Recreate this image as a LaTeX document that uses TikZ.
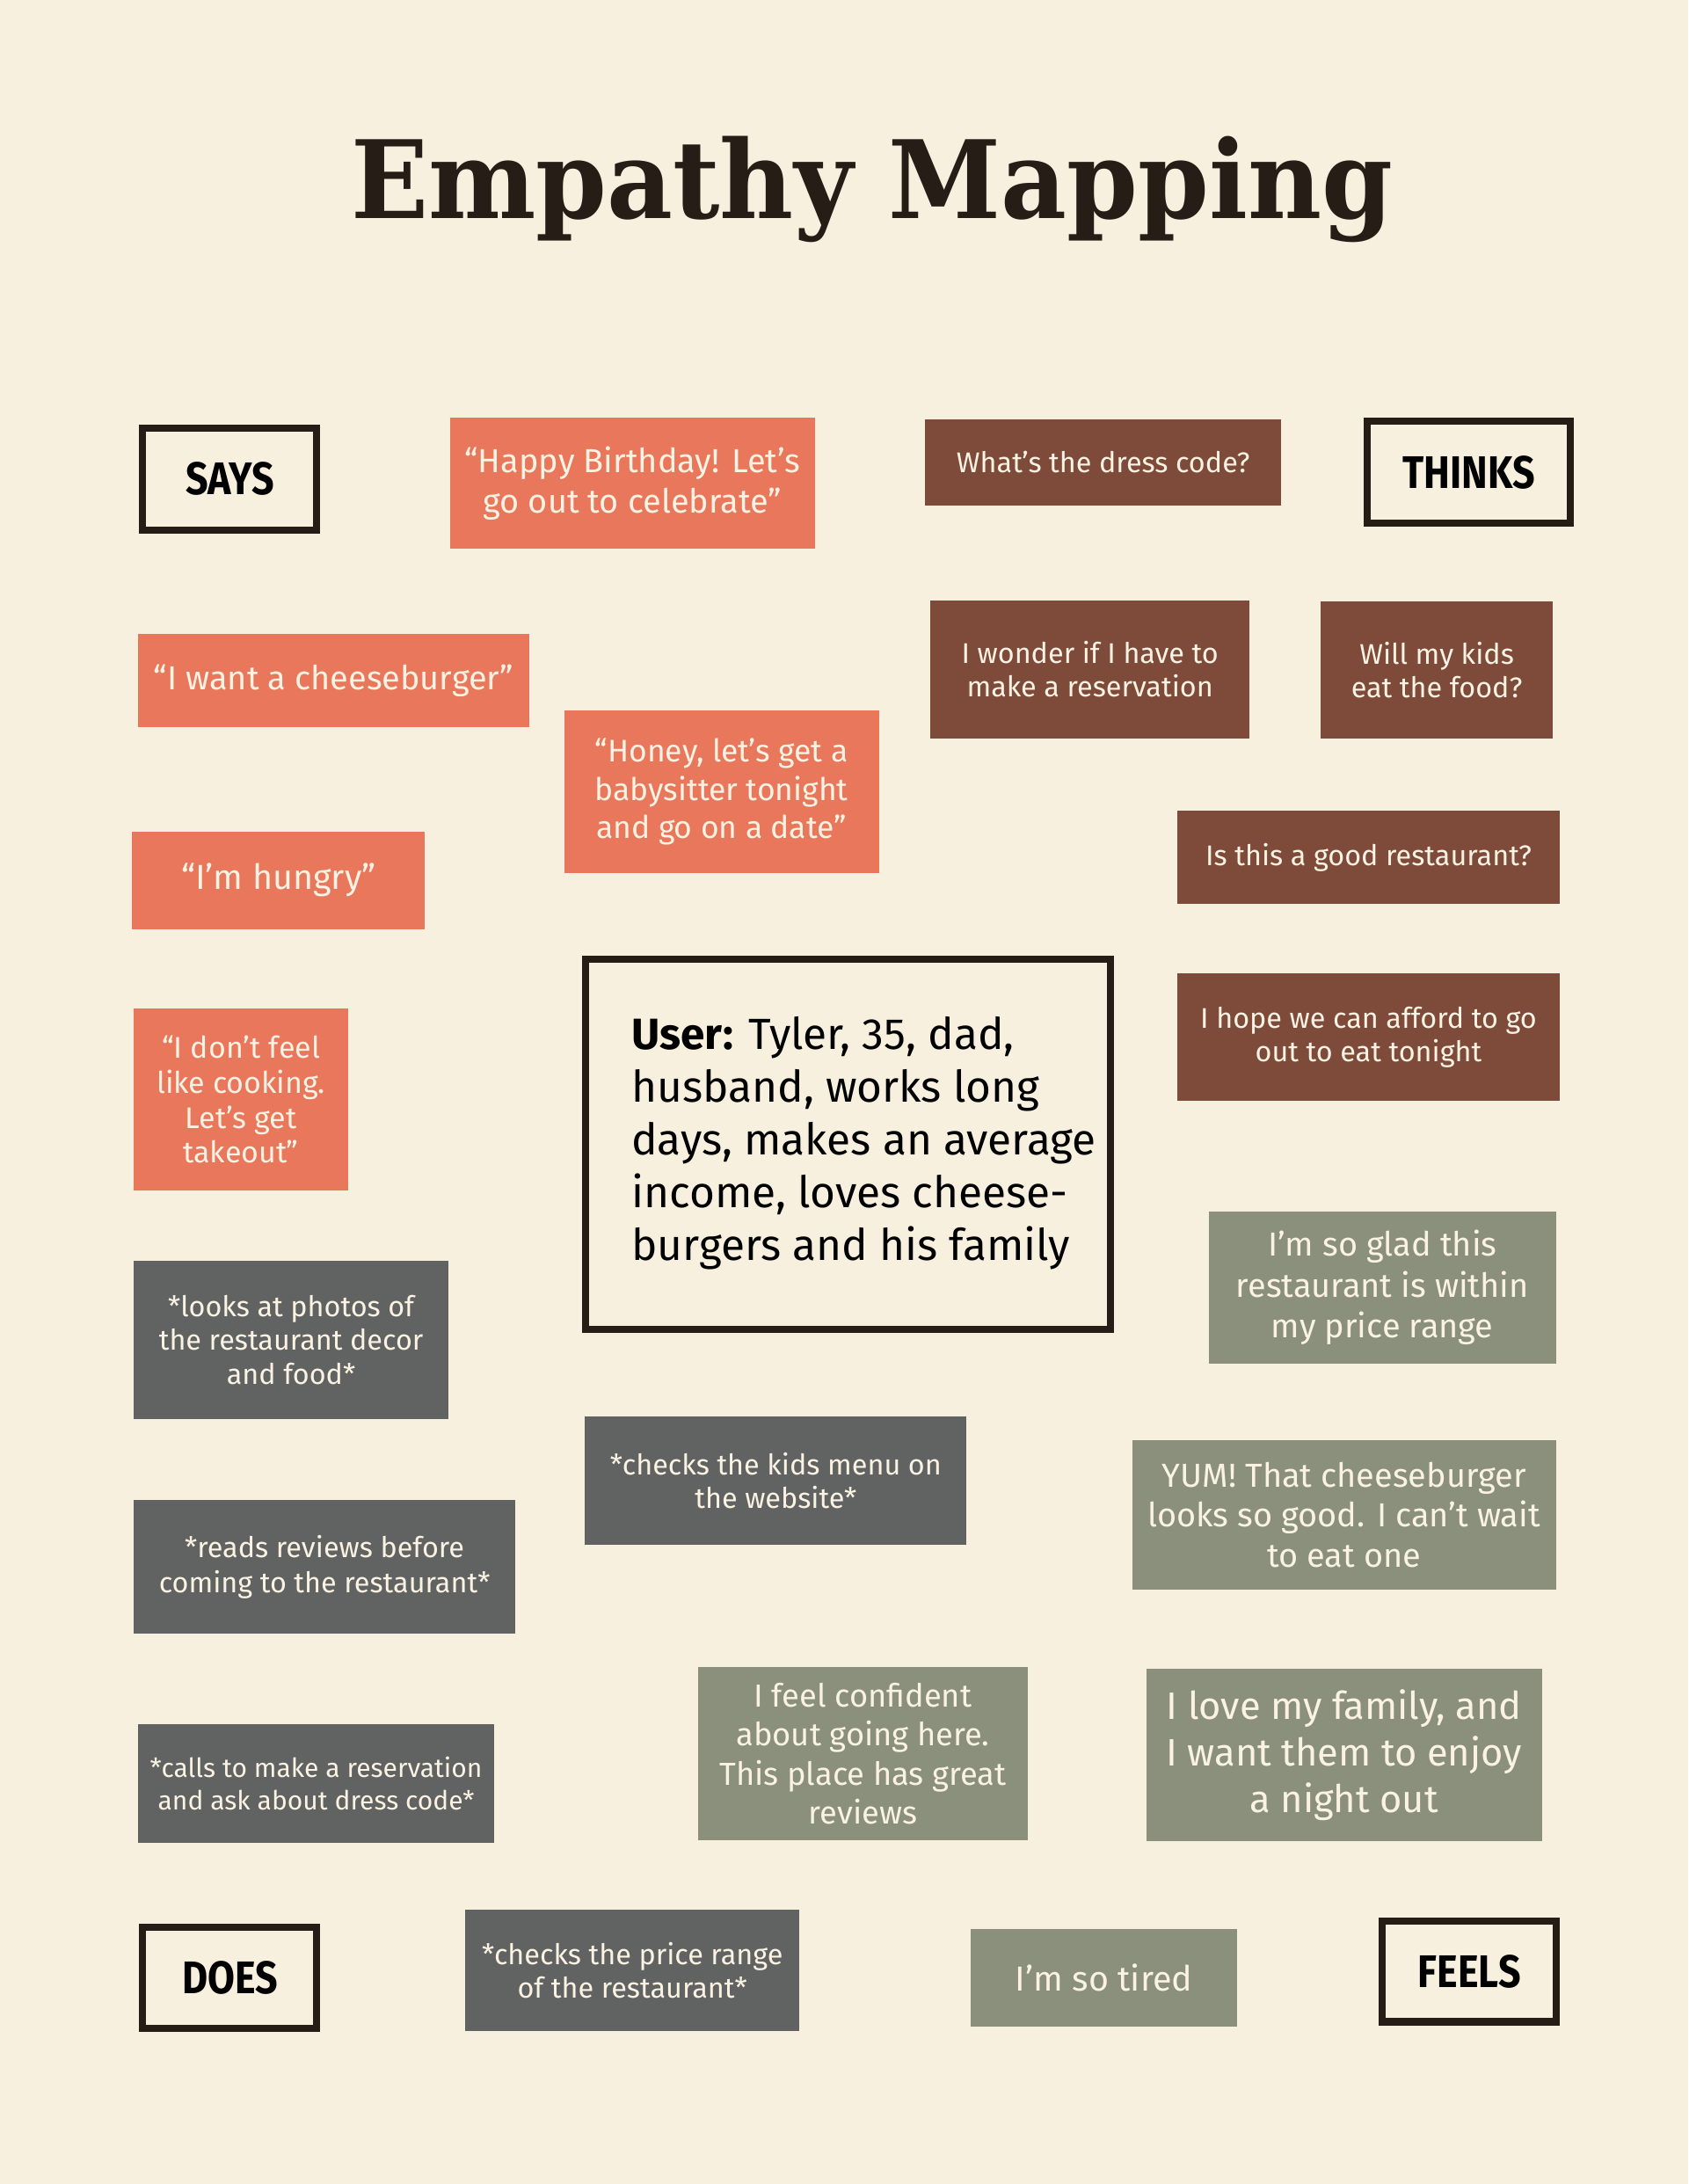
\documentclass[tikz,border=0pt]{standalone}
\usepackage{fontspec}
\setmainfont{Fira Sans}
\newfontfamily\titlefont{DejaVu Serif}[FakeStretch=0.94]
\newfontfamily\labelfont{Fira Sans}[FakeStretch=0.86]
\usetikzlibrary{positioning}

\definecolor{paper}{HTML}{F8F0DF}
\definecolor{ink}{HTML}{261D17}
\definecolor{coral}{HTML}{E9775C}
\definecolor{rust}{HTML}{7E4A3A}
\definecolor{slate}{HTML}{616362}
\definecolor{sage}{HTML}{8A907C}
\definecolor{cream}{HTML}{FAF2E2}

\begin{document}
\begin{tikzpicture}[x=0.015842cm, y=-0.015842cm,
    sz/.style 2 args={minimum width=#1*0.015842cm, minimum height=#2*0.015842cm},
    fs/.style 2 args={font=\fontsize{#1pt}{#2pt}\selectfont},
    card/.style={inner sep=0pt, align=center, text=cream},
    saysbox/.style={card, fill=coral},
    thinksbox/.style={card, fill=rust},
    doesbox/.style={card, fill=slate},
    feelsbox/.style={card, fill=sage},
    quadrant/.style={draw=ink, line width=2.3pt, fill=paper, inner sep=0pt,
        font=\labelfont\bfseries\fontsize{14.8pt}{17pt}\selectfont, text=black}]

    \fill[paper] (0,0) rectangle (1212,1568);
    \useasboundingbox (0,0) rectangle (1212,1568);

    \node[anchor=base, text=ink, font=\titlefont\bfseries\fontsize{35pt}{40pt}\selectfont] (title) at (626,157) {Empathy Mapping};

    % corner labels
    \node[quadrant, sz={125}{73}] (says) at (165,344) {SAYS};
    \node[quadrant, sz={146}{73}] (thinks) at (1054.5,339) {THINKS};
    \node[quadrant, sz={125}{73}] (does) at (165,1420) {DOES};
    \node[quadrant, sz={125}{72}] (feels) at (1055,1415.5) {FEELS};

    % user
    \node[draw=ink, line width=2.3pt, fill=paper, sz={377}{266}] (user) at (609,821.5) {};
    \node[anchor=west, inner sep=0pt, align=left, fs={14.1}{17.07}] (usertxt) at (453,821) {\textbf{User:} Tyler, 35, dad,\\husband, works long\\days, makes an average\\income, loves cheese-\\burgers and his family};

    % says
    \node[saysbox, sz={262}{94}, fs={10.78}{13.02}] (bday) at (454,347) {“Happy Birthday! Let’s\\go out to celebrate”};
    \node[saysbox, sz={281}{67}, fs={10.78}{13}] (cheese) at (239.5,488.5) {“I want a cheeseburger”};
    \node[saysbox, sz={226}{117}, fs={10.1}{12.35}] (honey) at (518,568.5) {“Honey, let’s get a\\babysitter tonight\\and go on a date”};
    \node[saysbox, sz={210}{70}, fs={11.23}{13.5}] (hungry) at (200,632) {“I’m hungry”};
    \node[saysbox, sz={154}{131}, fs={9.66}{11.3}] (cooking) at (173,789.5) {“I don’t feel\\like cooking.\\Let’s get\\takeout”};

    % thinks
    \node[thinksbox, sz={256}{62}, fs={9.21}{10.78}] (dress) at (792,332) {What’s the dress code?};
    \node[thinksbox, sz={229}{99}, fs={9.21}{10.78}] (reserve) at (782.5,480.5) {I wonder if I have to\\make a reservation};
    \node[thinksbox, sz={167}{98}, fs={9.21}{10.78}] (kids) at (1031.5,481) {Will my kids\\eat the food?};
    \node[thinksbox, sz={275}{67}, fs={9.21}{10.78}] (goodrest) at (982.5,615.5) {Is this a good restaurant?};
    \node[thinksbox, sz={275}{91}, fs={9.21}{10.78}] (afford) at (982.5,744.5) {I hope we can afford to go\\out to eat tonight};

    % does
    \node[doesbox, sz={226}{114}, fs={9.21}{11}] (photos) at (209,962) {*looks at photos of\\the restaurant decor\\and food*};
    \node[doesbox, sz={274}{92}, fs={9.21}{10.78}] (kidsmenu) at (557,1063) {*checks the kids menu on\\the website*};
    \node[doesbox, sz={274}{96}, fs={9.21}{11.2}] (reviews) at (233,1125) {*reads reviews before\\coming to the restaurant*};
    \node[doesbox, sz={256}{85}, fs={8.53}{10.33}] (calls) at (227,1280.5) {*calls to make a reservation\\and ask about dress code*};
    \node[doesbox, sz={240}{87}, fs={9.21}{10.78}] (price) at (454,1414.5) {*checks the price range\\of the restaurant*};

    % feels
    \node[feelsbox, sz={249}{109}, fs={10.78}{13.25}] (glad) at (992.5,924.5) {I’m so glad this\\restaurant is within\\my price range};
    \node[feelsbox, sz={304}{107}, fs={10.78}{13.02}] (yum) at (965,1087.5) {YUM! That cheeseburger\\looks so good. I can’t wait\\to eat one};
    \node[feelsbox, sz={237}{124}, fs={10.33}{12.57}] (confident) at (619.5,1259) {I feel confident\\about going here.\\This place has great\\reviews};
    \node[feelsbox, sz={284}{124}, fs={12.35}{15.04}] (family) at (965,1260) {I love my family, and\\I want them to enjoy\\a night out};
    \node[feelsbox, sz={191}{70}, fs={11.23}{13.5}] (tired) at (792.5,1420) {I’m so tired};
\end{tikzpicture}
\end{document}
